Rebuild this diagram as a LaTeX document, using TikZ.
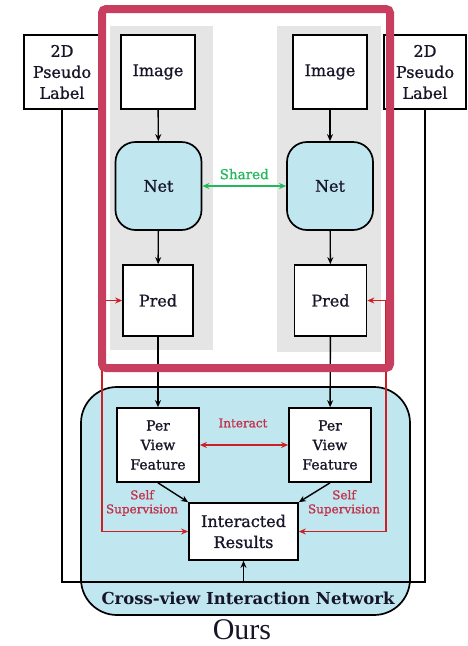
\documentclass[tikz,border=0pt]{standalone}
\usepackage{fontspec}
\setmainfont{DejaVu Serif}
\newfontfamily\boxfont{DejaVu Serif}[BoldFont={DejaVu Serif}, BoldFeatures={FakeBold=1.0}]
\newfontfamily\oursfont{Liberation Serif}
\usetikzlibrary{arrows.meta}
\definecolor{netblue}{RGB}{192,230,240}
\definecolor{panelgray}{RGB}{229,229,229}
\definecolor{frame}{RGB}{200,62,94}
\definecolor{supred}{RGB}{205,32,36}
\definecolor{labred}{RGB}{196,48,72}
\definecolor{sharegreen}{RGB}{34,184,92}
\definecolor{ink}{RGB}{22,22,40}
\tikzset{
  box/.style={draw=black, line width=1.7pt, fill=white, align=center, text=ink,
    inner sep=0pt, font=\boxfont\bfseries\fontsize{16}{21}\selectfont},
  netbox/.style={box, fill=netblue, rounded corners=20pt},
  featbox/.style={box, font=\boxfont\bfseries\fontsize{14}{19.5}\selectfont},
  tip/.tip={Stealth[length=7pt,width=6pt]},
  flow/.style={draw=black, line width=1.4pt, -tip},
  plain/.style={draw=black, line width=1.4pt},
  supline/.style={draw=supred, line width=1.4pt, -tip},
  tag/.style={font=\boxfont\bfseries\fontsize{12}{14}\selectfont, text=labred, align=center, inner sep=0pt},
}
\begin{document}
\begin{tikzpicture}[x=1pt,y=-1pt]
\useasboundingbox (0,0) rectangle (468,646);

% grey backgrounds of the two branches
\fill[panelgray] (110,26) rectangle (213,350);
\fill[panelgray] (277,26) rectangle (381,352);

% interaction network container
\draw[line width=1.7pt, fill=netblue, rounded corners=36pt] (81,387) rectangle (410,615);
\node[font=\bfseries\fontsize{16.5}{20}\selectfont, text=ink, inner sep=0pt] (cvlabel) at (248,598) {Cross-view Interaction Network};

% pseudo label boxes
\node[box, minimum width=76pt, minimum height=74pt] (pll) at (62,72) {2D\\Pseudo\\Label};
\node[box, minimum width=82pt, minimum height=74pt] (plr) at (425,72) {2D\\Pseudo\\Label};

% branch nodes
\node[box, minimum width=74pt, minimum height=74pt] (imgl) at (158,72) {Image};
\node[box, minimum width=74pt, minimum height=74pt] (imgr) at (330,72) {Image};
\node[netbox, minimum width=86pt, minimum height=88pt] (netl) at (158.5,186) {Net};
\node[netbox, minimum width=86pt, minimum height=88pt] (netr) at (330,186) {Net};
\node[box, minimum width=70pt, minimum height=71pt] (predl) at (158,300.5) {Pred};
\node[box, minimum width=72pt, minimum height=71pt] (predr) at (330.5,300.5) {Pred};

% interaction nodes
\node[featbox, minimum width=82pt, minimum height=74pt] (pvl) at (158,445) {Per\\View\\Feature};
\node[featbox, minimum width=82pt, minimum height=74pt] (pvr) at (330,445) {Per\\View\\Feature};
\node[box, minimum width=109pt, minimum height=57pt] (ir) at (243.5,531.5) {Interacted\\Results};

% main flow
\draw[flow] (imgl) -- (netl);
\draw[flow] (imgr) -- (netr);
\draw[flow] (netl) -- (predl);
\draw[flow] (netr) -- (predr);
\draw[flow] (predl) -- (pvl);
\draw[flow] (predr) -- (pvr);
\draw[flow] (pvl.south) -- (ir.north west);
\draw[flow] (pvr.south) -- (ir.north east);

% shared weights
\draw[draw=sharegreen, line width=1.4pt, tip-tip] (netl.east) -- (netr.west)
  node[midway, above=6pt, font=\boxfont\bfseries\fontsize{13.5}{15}\selectfont, text=sharegreen, inner sep=0pt] (sharedlbl) {Shared};

% interaction between views
\draw[draw=supred, line width=1.4pt, tip-tip] (pvl.east) -- (pvr.west);
\node[tag] (interactlbl) at (243,423) {Interact};

% pseudo labels routed to the results
\coordinate (bl) at (62,582);
\coordinate (br) at (425,582);
\coordinate (bm) at (243.5,582);
\draw[plain] (pll.south) -- (bl) -- (br) -- (plr.south);
\draw[flow] (bm) -- (ir.south);

% self supervision paths
\coordinate (ssl) at (102,300.5);
\coordinate (ssr) at (386,300.5);
\draw[supline] (ssl) -- (predl.west);
\draw[supline] (ssr) -- (predr.east);
\draw[supline] (ssl) -- (ssl |- ir.west) -- (ir.west);
\draw[supline] (ssr) -- (ssr |- ir.east) -- (ir.east);
\node[tag] (ssll) at (142,503) {Self\\Supervision};
\node[tag] (sslr) at (344,503) {Self\\Supervision};

% highlighted frame around the two branches
\draw[frame, line width=8pt, rounded corners=4pt] (102,9) rectangle (390,368);

\node[font=\oursfont\fontsize{30}{33}\selectfont, text=ink, inner sep=0pt] (ours) at (242,630) {Ours};
\end{tikzpicture}
\end{document}
